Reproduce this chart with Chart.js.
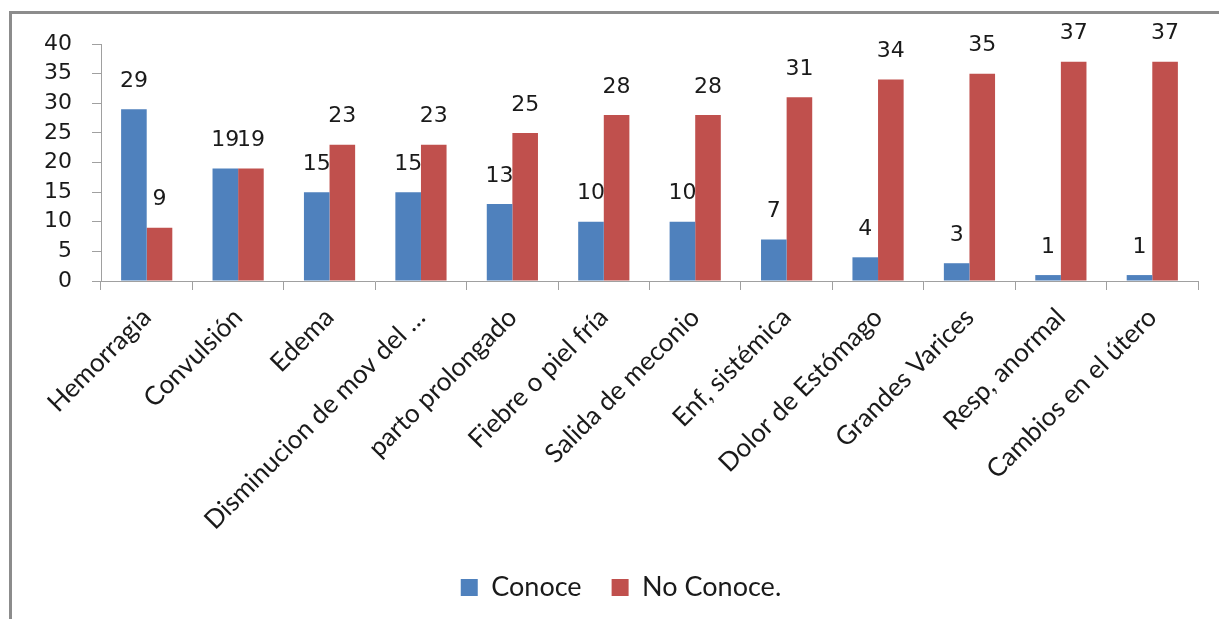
<!DOCTYPE html>
<html>
<head>
<meta charset="utf-8">
<script src="https://cdn.jsdelivr.net/npm/chart.js@4/dist/chart.umd.min.js"></script>
<style>
  html, body { margin: 0; padding: 0; background: #ffffff; overflow: hidden; }
  #chart { display: block; }
</style>
</head>
<body>
<canvas id="chart" width="1219" height="619"></canvas>
<script>
// Signos de alarma: conocimiento de las gestantes
const categorias = [
  'Hemorragia', 'Convulsión', 'Edema', 'Disminucion de mov del …',
  'parto prolongado', 'Fiebre o piel fría', 'Salida de meconio', 'Enf, sistémica',
  'Dolor de Estómago', 'Grandes Varices', 'Resp, anormal', 'Cambios en el útero'
];
const conoce = [29, 19, 15, 15, 13, 10, 10, 7, 4, 3, 1, 1];
const noConoce = [9, 19, 23, 23, 25, 28, 28, 31, 34, 35, 37, 37];
const ticksY = [0, 5, 10, 15, 20, 25, 30, 35, 40];

const numFont = { family: '"DejaVu Sans", Verdana, sans-serif', size: 22 };
const textFont = { family: 'Lato, "Open Sans", sans-serif', size: 26 };

// Etiquetas de valor sobre cada barra
const etiquetasValor = {
  id: 'etiquetasValor',
  afterDatasetsDraw(chart) {
    const ctx = chart.ctx;
    ctx.save();
    ctx.font = `${numFont.size}px ${numFont.family}`;
    ctx.fillStyle = '#1a1a1a';
    ctx.textAlign = 'center';
    ctx.textBaseline = 'middle';
    chart.data.datasets.forEach((ds, i) => {
      chart.getDatasetMeta(i).data.forEach((bar, j) => {
        ctx.fillText(String(ds.data[j]), bar.x, bar.y - 28);
      });
    });
    ctx.restore();
  }
};

// Marco gris superior e izquierdo; la leyenda va algo a la derecha
const marco = {
  id: 'marco',
  afterLayout(chart) {
    chart.legend.left += 22;
    chart.legend.right += 22;
  },
  beforeDraw(chart) {
    const ctx = chart.ctx;
    ctx.save();
    ctx.strokeStyle = '#8c8c8c';
    ctx.lineWidth = 3;
    ctx.beginPath();
    ctx.moveTo(10.5, chart.height);
    ctx.lineTo(10.5, 12.5);
    ctx.lineTo(chart.width, 12.5);
    ctx.stroke();
    ctx.restore();
  }
};

new Chart(document.getElementById('chart'), {
  type: 'bar',
  data: {
    labels: categorias,
    datasets: [
      { label: 'Conoce', data: conoce, backgroundColor: '#4F81BD' },
      { label: 'No Conoce.', data: noConoce, backgroundColor: '#C0504D' }
    ]
  },
  options: {
    responsive: false,
    animation: false,
    categoryPercentage: 0.56,
    barPercentage: 1,
    layout: { padding: { left: 0, top: 44, right: 21, bottom: 8 } },
    plugins: {
      legend: {
        position: 'bottom',
        labels: {
          boxWidth: 17,
          boxHeight: 17,
          padding: 30,
          color: '#1a1a1a',
          font: { family: textFont.family, size: 27 }
        }
      },
      tooltip: { enabled: false }
    },
    scales: {
      x: {
        afterFit(scale) { scale.height = 263; },
        grid: {
          display: true,
          drawOnChartArea: false,
          drawTicks: true,
          tickLength: 9,
          color: '#a0a0a0'
        },
        border: { color: '#a0a0a0', width: 1 },
        ticks: {
          color: '#1a1a1a',
          font: textFont,
          minRotation: 45,
          maxRotation: 45,
          autoSkip: false,
          padding: 12
        }
      },
      y: {
        min: 0,
        max: 40,
        afterFit(scale) { scale.width = 101; },
        afterBuildTicks(scale) { scale.ticks = ticksY.map(v => ({ value: v })); },
        grid: {
          display: true,
          drawOnChartArea: false,
          drawTicks: true,
          tickLength: 9,
          color: '#a0a0a0'
        },
        border: { color: '#a0a0a0', width: 1 },
        ticks: {
          color: '#1a1a1a',
          font: numFont,
          autoSkip: false,
          padding: 20
        }
      }
    }
  },
  plugins: [marco, etiquetasValor]
});
</script>
</body>
</html>
